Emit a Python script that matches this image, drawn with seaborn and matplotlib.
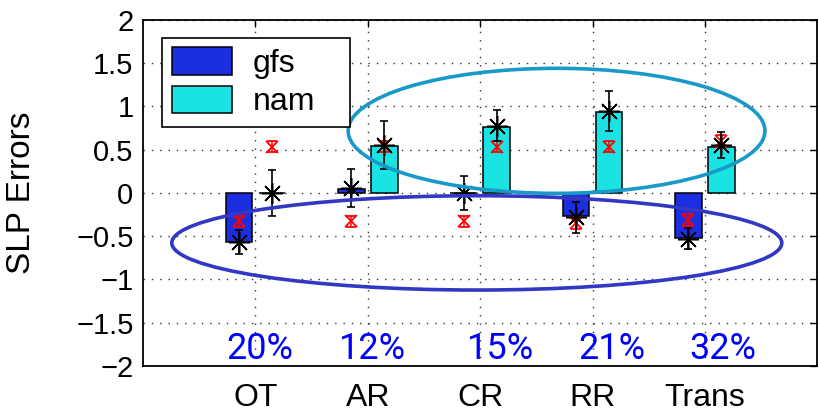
import matplotlib
matplotlib.use("Agg")
import matplotlib.pyplot as plt
from matplotlib.patches import Ellipse
import seaborn as sns
import pandas as pd

# values
categories = ["OT", "AR", "CR", "RR", "Trans"]
models = ["gfs", "nam"]
gfs_bar = [-0.57, 0.05, 0.0, -0.27, -0.52]
nam_bar = [0.0, 0.54, 0.76, 0.94, 0.53]
gfs_mean = [-0.57, 0.055, 0.0, -0.28, -0.53]
gfs_err = [0.14, 0.22, 0.20, 0.18, 0.12]
nam_mean = [0.0, 0.555, 0.775, 0.945, 0.55]
nam_err = [0.27, 0.28, 0.18, 0.23, 0.15]
gfs_ref = [-0.33, -0.33, -0.33, -0.35, -0.31]
nam_ref = [0.535, 0.54, 0.535, 0.535, 0.60]
ref_err = [0.065, 0.065, 0.065, 0.065, 0.07]
pct_labels = ["20%", "12%", "15%", "21%", "32%"]
ytick_vals = [-2, -1.5, -1, -0.5, 0, 0.5, 1, 1.5, 2]
ytick_labels = ["\u22122", "\u22121.5", "\u22121", "\u22120.5", "0", "0.5", "1", "1.5", "2"]

colors = {"gfs": "#1b2ee0", "nam": "#19e3e3"}

df = pd.DataFrame({
    "type": categories * 2,
    "model": ["gfs"] * len(categories) + ["nam"] * len(categories),
    "err": gfs_bar + nam_bar,
})

sns.set_style("white")
plt.rcParams["font.family"] = ["Liberation Sans", "DejaVu Sans"]
plt.rcParams["text.color"] = "black"

fig = plt.figure(figsize=(8.18, 4.13), dpi=100)
ax = fig.add_axes([0.175, 0.114, 0.824, 0.838])

bar_width = 0.59
sns.barplot(data=df, x="type", y="err", hue="model", order=categories,
            hue_order=models, palette=colors, width=bar_width, gap=0.2,
            saturation=1, edgecolor="black", linewidth=1.1, errorbar=None,
            ax=ax, zorder=2)

# dodge offsets of the two hue slots
off = bar_width / 4
xs = range(len(categories))
gx = [i - off for i in xs]
nx = [i + off for i in xs]

star = (8, 2, 0)
for x, m, e in ((gx, gfs_mean, gfs_err), (nx, nam_mean, nam_err)):
    ax.errorbar(x, m, yerr=e, fmt="none", ecolor="black", elinewidth=1.2,
                capsize=2.8, capthick=1.2, zorder=4)
    ax.plot(x, m, linestyle="none", marker=star, markersize=15,
            markeredgecolor="black", markeredgewidth=1.1, zorder=4)
for x, r in ((gx, gfs_ref), (nx, nam_ref)):
    ax.errorbar(x, r, yerr=ref_err, fmt="x", color="red", markersize=8.5,
                markeredgewidth=1.3, elinewidth=1.1, capsize=3.8,
                capthick=1.2, zorder=3)

# annotation ellipses
ax.add_patch(Ellipse((2.68, 0.717), 3.71, 1.445, fill=False,
                     edgecolor="#1899c8", linewidth=2.6, zorder=5))
ax.add_patch(Ellipse((1.97, -0.578), 5.43, 1.09, fill=False,
                     edgecolor="#3237c4", linewidth=2.6, zorder=5))

pct_shift = [0.04, 0.04, 0.18, 0.17, 0.16]
for i, (lab, s) in enumerate(zip(pct_labels, pct_shift)):
    ax.text(i + s, -1.92, lab, color="#0000ff", fontsize=26, family="Roboto",
            ha="center", va="baseline", zorder=6)

ax.set_xlim(-1, 5)
ax.set_ylim(-2, 2)
ax.set_yticks(ytick_vals)
ax.set_yticklabels(ytick_labels)
ax.set_xlabel("")
ax.set_ylabel("SLP Errors", fontsize=24, color="black")
ax.yaxis.set_label_coords(-0.157, 0.5)

ax.grid(True, linestyle=(0, (1, 5)), linewidth=1.0, color="#333333")
ax.set_axisbelow(True)
ax.tick_params(direction="in", top=True, right=True, length=5, width=1,
               colors="black")
ax.tick_params(axis="x", pad=12, labelsize=23)
ax.tick_params(axis="y", pad=7, labelsize=21)
for sp in ax.spines.values():
    sp.set_linewidth(1.3)
    sp.set_color("black")

leg = ax.legend(loc="upper left", bbox_to_anchor=(0.028, 0.0, 0.279, 0.948),
                mode="expand", borderaxespad=0, fontsize=23, fancybox=False,
                framealpha=1, edgecolor="black", handlelength=1.9,
                handleheight=0.95, handletextpad=0.65, labelspacing=0.2,
                borderpad=0.3, title=None, labelcolor="black")
leg.get_frame().set_linewidth(1.2)

fig.savefig("out.png", dpi=100)
